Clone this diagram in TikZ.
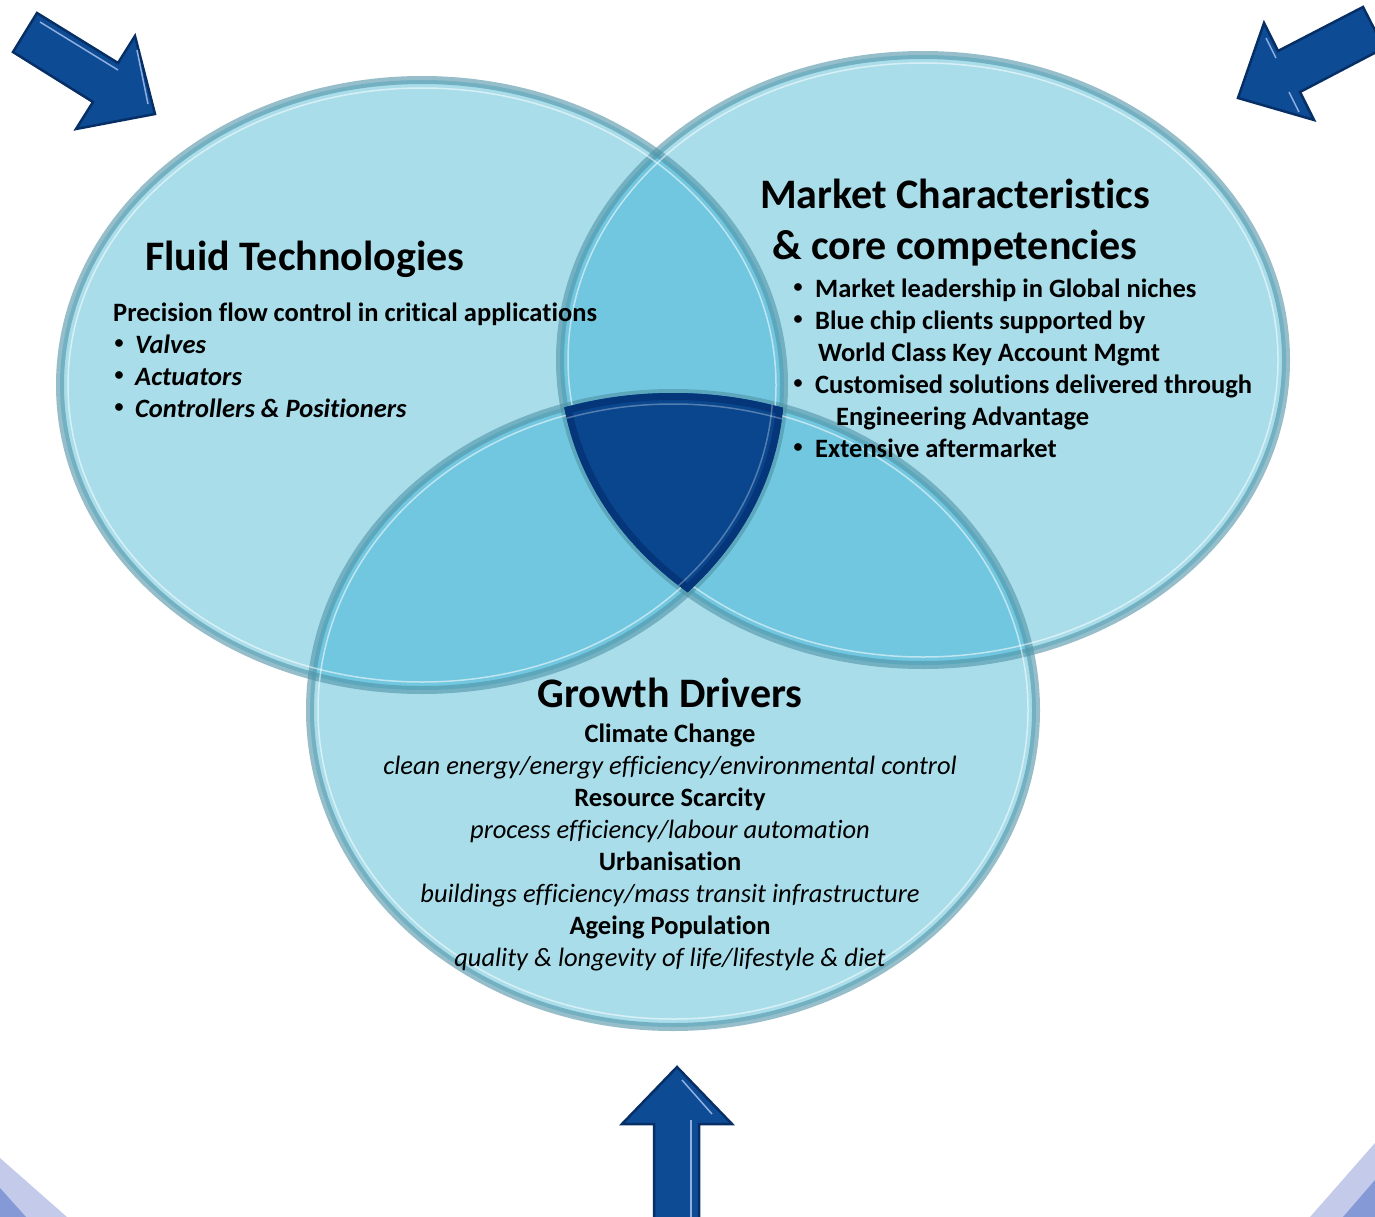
\documentclass[tikz,border=0pt]{standalone}
\usepackage{fontspec}
\setmainfont{Carlito}[RawFeature={-liga;-clig;-calt;-dlig}]
\definecolor{vennlight}{HTML}{A9DDEA}
\definecolor{vennmid}{HTML}{71C7DF}
\definecolor{venndark}{HTML}{0A468D}
\definecolor{vennedge}{HTML}{05367A}
\definecolor{rimteal}{HTML}{4F93A6}
\definecolor{arrowblue}{HTML}{0E4B95}
\definecolor{arrowedge}{HTML}{062F66}
\definecolor{arrowshine}{HTML}{8FB0E0}
\definecolor{framelight}{HTML}{C3CAEA}
\definecolor{framedark}{HTML}{8499D6}
\newcommand{\fluidring}{(422,385) ellipse [x radius=362, y radius=305]}
\newcommand{\marketring}{(923,360) ellipse [x radius=363, y radius=305]}
\newcommand{\growthring}{(673,710) ellipse [x radius=363, y radius=317]}
\tikzset{
	rimstyle/.style={draw=rimteal,line width=8pt,draw opacity=0.6},
	shinestyle/.style={draw=white,line width=1.5pt,draw opacity=0.55},
	arrowstyle/.style={fill=arrowblue,draw=arrowedge,line width=2.5pt,line join=miter},
	arrowshinestyle/.style={draw=arrowshine,line width=1.5pt},
	titlestyle/.style={inner sep=0pt,font=\fontsize{42}{50}\selectfont\bfseries},
	boldstyle/.style={inner sep=0pt,font=\fontsize{26.5}{32}\selectfont\bfseries},
	itstyle/.style={inner sep=0pt,font=\fontsize{26.5}{32}\selectfont\itshape},
	bolditstyle/.style={inner sep=0pt,font=\fontsize{26.5}{32}\selectfont\bfseries\itshape},
	dotstyle/.style={inner sep=0pt,font=\fontsize{18}{18}\selectfont\bfseries}
}
\begin{document}
\begin{tikzpicture}[x=1pt,y=-1pt]
		\useasboundingbox (0,0) rectangle (1375,1217);
		% frame corners
		\fill[framelight] (0,1158)--(67,1217)--(0,1217)--cycle;
		\fill[framedark] (0,1188)--(26,1217)--(0,1217)--cycle;
		\fill[framelight] (1375,1143)--(1310,1217)--(1375,1217)--cycle;
		\fill[framedark] (1375,1180)--(1343,1217)--(1375,1217)--cycle;
		% the three sets
		\fill[vennlight] \fluidring;
		\fill[vennlight] \marketring;
		\fill[vennlight] \growthring;
		\begin{scope}
			\clip \fluidring;
			\fill[vennmid] \marketring;
			\fill[vennmid] \growthring;
		\end{scope}
		\begin{scope}
			\clip \marketring;
			\fill[vennmid] \growthring;
		\end{scope}
		\draw[rimstyle] \fluidring;
		\draw[rimstyle] \marketring;
		\draw[rimstyle] \growthring;
		\draw[shinestyle] (422,385) ellipse [x radius=354, y radius=297];
		\draw[shinestyle] (923,360) ellipse [x radius=355, y radius=297];
		\draw[shinestyle] (673,710) ellipse [x radius=355, y radius=309];
		\begin{scope}
			\clip \fluidring;
			\clip \marketring;
			\clip \growthring;
			\fill[venndark] \growthring;
			\draw[vennedge,line width=14pt] \fluidring;
			\draw[vennedge,line width=14pt] \marketring;
			\draw[vennedge,line width=14pt] \growthring;
			\draw[shinestyle,draw opacity=0.3] (422,385) ellipse [x radius=351, y radius=294];
			\draw[shinestyle,draw opacity=0.3] (673,710) ellipse [x radius=352, y radius=306];
		\end{scope}
		% arrows
		\draw[arrowstyle] (37,13)--(118,63)--(135,36)--(155,114)--(76,129)--(93,102)--(13,52)--cycle;
		\draw[arrowshinestyle] (40,22)--(118,70);
		\draw[arrowshinestyle] (137,50)--(148,104);
		\draw[arrowstyle] (1363,7)--(1278,51)--(1264,23)--(1238,98)--(1314,120)--(1300,92)--(1384,48)--cycle;
		\draw[arrowshinestyle] (1266,38)--(1276,58);
		\draw[arrowshinestyle] (1289,92)--(1299,112);
		\draw[arrowstyle] (677,1067)--(732,1124)--(699,1124)--(699,1230)--(654,1230)--(654,1124)--(622,1124)--cycle;
		\draw[arrowshinestyle] (682,1080)--(712,1114);
		\draw[arrowshinestyle] (691,1120)--(691,1230);
		% fluid technologies
		\node[titlestyle,anchor=base west] (fluidtitle) at (145,270) {Fluid Technologies};
		\node[boldstyle,anchor=base west] (fluidsub) at (113,321) {Precision flow control in critical applications};
		\foreach \txt [count=\i, evaluate=\i as \yy using 321+32*\i] in {Valves,Actuators,Controllers \& Positioners}{
			\node[dotstyle] (fluiddot\i) at (119,\yy-9) {\textbullet};
			\node[bolditstyle,anchor=base west] (fluiditem\i) at (135,\yy) {\txt};
		}
		% market characteristics
		\node[titlestyle,anchor=base west] (markettitle) at (760,208) {Market Characteristics};
		\node[titlestyle,anchor=base west] (marketsub) at (772,259) {\& core competencies};
		\foreach \yy in {297,329,393,457}{
			\node[dotstyle] at (798,\yy-9) {\textbullet};
		}
		\node[boldstyle,anchor=base west] (marketitem1) at (815,297) {Market leadership in Global niches};
		\node[boldstyle,anchor=base west] (marketitem2) at (815,329) {Blue chip clients supported by};
		\node[boldstyle,anchor=base west] (marketitem2b) at (818,361) {World Class Key Account Mgmt};
		\node[boldstyle,anchor=base west] (marketitem3) at (815,393) {Customised solutions delivered through};
		\node[boldstyle,anchor=base west] (marketitem3b) at (836,425) {Engineering Advantage};
		\node[boldstyle,anchor=base west] (marketitem4) at (815,457) {Extensive aftermarket};
		% growth drivers
		\node[titlestyle,anchor=base] (growthtitle) at (670,707) {Growth Drivers};
		\node[boldstyle,anchor=base] (driver1) at (670,742) {Climate Change};
		\node[itstyle,anchor=base] (detail1) at (670,774) {clean energy/energy efficiency/environmental control};
		\node[boldstyle,anchor=base] (driver2) at (670,806) {Resource Scarcity};
		\node[itstyle,anchor=base] (detail2) at (670,838) {process efficiency/labour automation};
		\node[boldstyle,anchor=base] (driver3) at (670,870) {Urbanisation};
		\node[itstyle,anchor=base] (detail3) at (670,902) {buildings efficiency/mass transit infrastructure};
		\node[boldstyle,anchor=base] (driver4) at (670,934) {Ageing Population};
		\node[itstyle,anchor=base] (detail4) at (670,966) {quality \& longevity of life/lifestyle \& diet};
\end{tikzpicture}
\end{document}
